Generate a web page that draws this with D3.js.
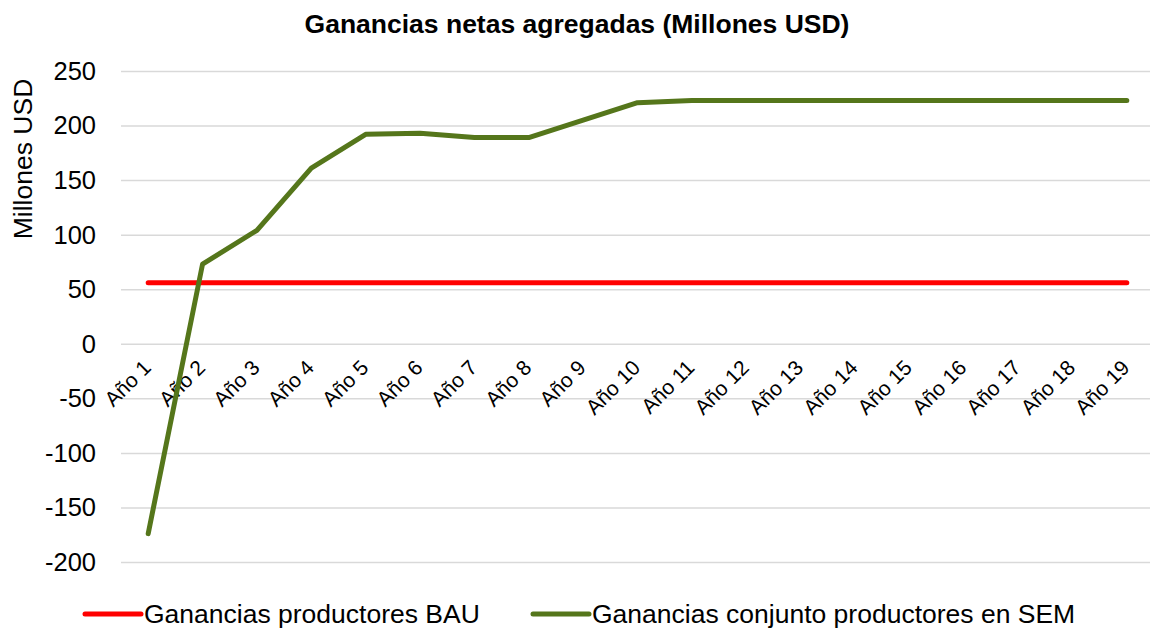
<!DOCTYPE html>
<html>
<head>
<meta charset="utf-8">
<script src="https://cdn.jsdelivr.net/npm/d3@7"></script>
<style>
  body { margin: 0; background: #fff; }
  svg { display: block; font-family: "Liberation Sans", Arial, sans-serif; }
</style>
</head>
<body>
<svg id="chart" width="1150" height="631"></svg>
<script>
// data
const years = ["Año 1","Año 2","Año 3","Año 4","Año 5","Año 6","Año 7","Año 8","Año 9","Año 10",
  "Año 11","Año 12","Año 13","Año 14","Año 15","Año 16","Año 17","Año 18","Año 19"];
const bau = [56,56,56,56,56,56,56,56,56,56,56,56,56,56,56,56,56,56,56];
const sem = [-174,73,104,161,192,193,189,189,205,221,223,223,223,223,223,223,223,223,223];
const yTicks = [-200,-150,-100,-50,0,50,100,150,200,250];

const series = [
  { name: "Ganancias productores BAU", values: bau, color: "#ff0000" },
  { name: "Ganancias conjunto productores en SEM", values: sem, color: "#55761b" }
];

const svg = d3.select("#chart");

const x = d3.scaleBand().domain(years).range([121, 1154]);
const y = d3.scaleLinear().domain([-200, 250]).range([562, 71]);
const cx = d => x(d) + x.bandwidth() / 2;

// title
svg.append("text")
  .attr("x", 577).attr("y", 33)
  .attr("text-anchor", "middle")
  .attr("font-size", 26.5).attr("font-weight", "bold")
  .text("Ganancias netas agregadas (Millones USD)");

// grid
svg.append("g")
  .attr("transform", "translate(121,0)")
  .call(d3.axisLeft(y).tickValues(yTicks).tickSize(-1033).tickFormat(""))
  .call(g => g.select(".domain").remove())
  .call(g => g.selectAll("line").attr("stroke", "#d9d9d9").attr("stroke-width", 1.5));

// y labels
svg.append("g")
  .selectAll("text")
  .data(yTicks)
  .join("text")
  .attr("x", 96)
  .attr("y", d => y(d))
  .attr("dy", "0.35em")
  .attr("text-anchor", "end")
  .attr("font-size", 25.5)
  .attr("fill", "#000")
  .text(d => d);

// y title
svg.append("text")
  .attr("transform", "translate(32,159) rotate(-90)")
  .attr("text-anchor", "middle")
  .attr("font-size", 26.5)
  .text("Millones USD");

// x labels
svg.append("g")
  .selectAll("text")
  .data(years)
  .join("text")
  .attr("transform", d => `translate(${cx(d) + 4},369) rotate(-45)`)
  .attr("text-anchor", "end")
  .attr("font-size", 21)
  .text(d => d);

// lines
const line = d3.line()
  .x((d, i) => cx(years[i]))
  .y(d => y(d));

svg.append("g")
  .selectAll("path")
  .data(series)
  .join("path")
  .attr("d", d => line(d.values))
  .attr("fill", "none")
  .attr("stroke", d => d.color)
  .attr("stroke-width", 5)
  .attr("stroke-linecap", "round")
  .attr("stroke-linejoin", "round");

// legend
const legendX = [85, 533];
const legend = svg.append("g")
  .selectAll("g")
  .data(series)
  .join("g")
  .attr("transform", (d, i) => `translate(${legendX[i]},614)`);

legend.append("line")
  .attr("x1", 0).attr("x2", 56)
  .attr("stroke", d => d.color)
  .attr("stroke-width", 5)
  .attr("stroke-linecap", "round");

legend.append("text")
  .attr("x", 59).attr("y", 9)
  .attr("font-size", 26.5)
  .text(d => d.name);
</script>
</body>
</html>
